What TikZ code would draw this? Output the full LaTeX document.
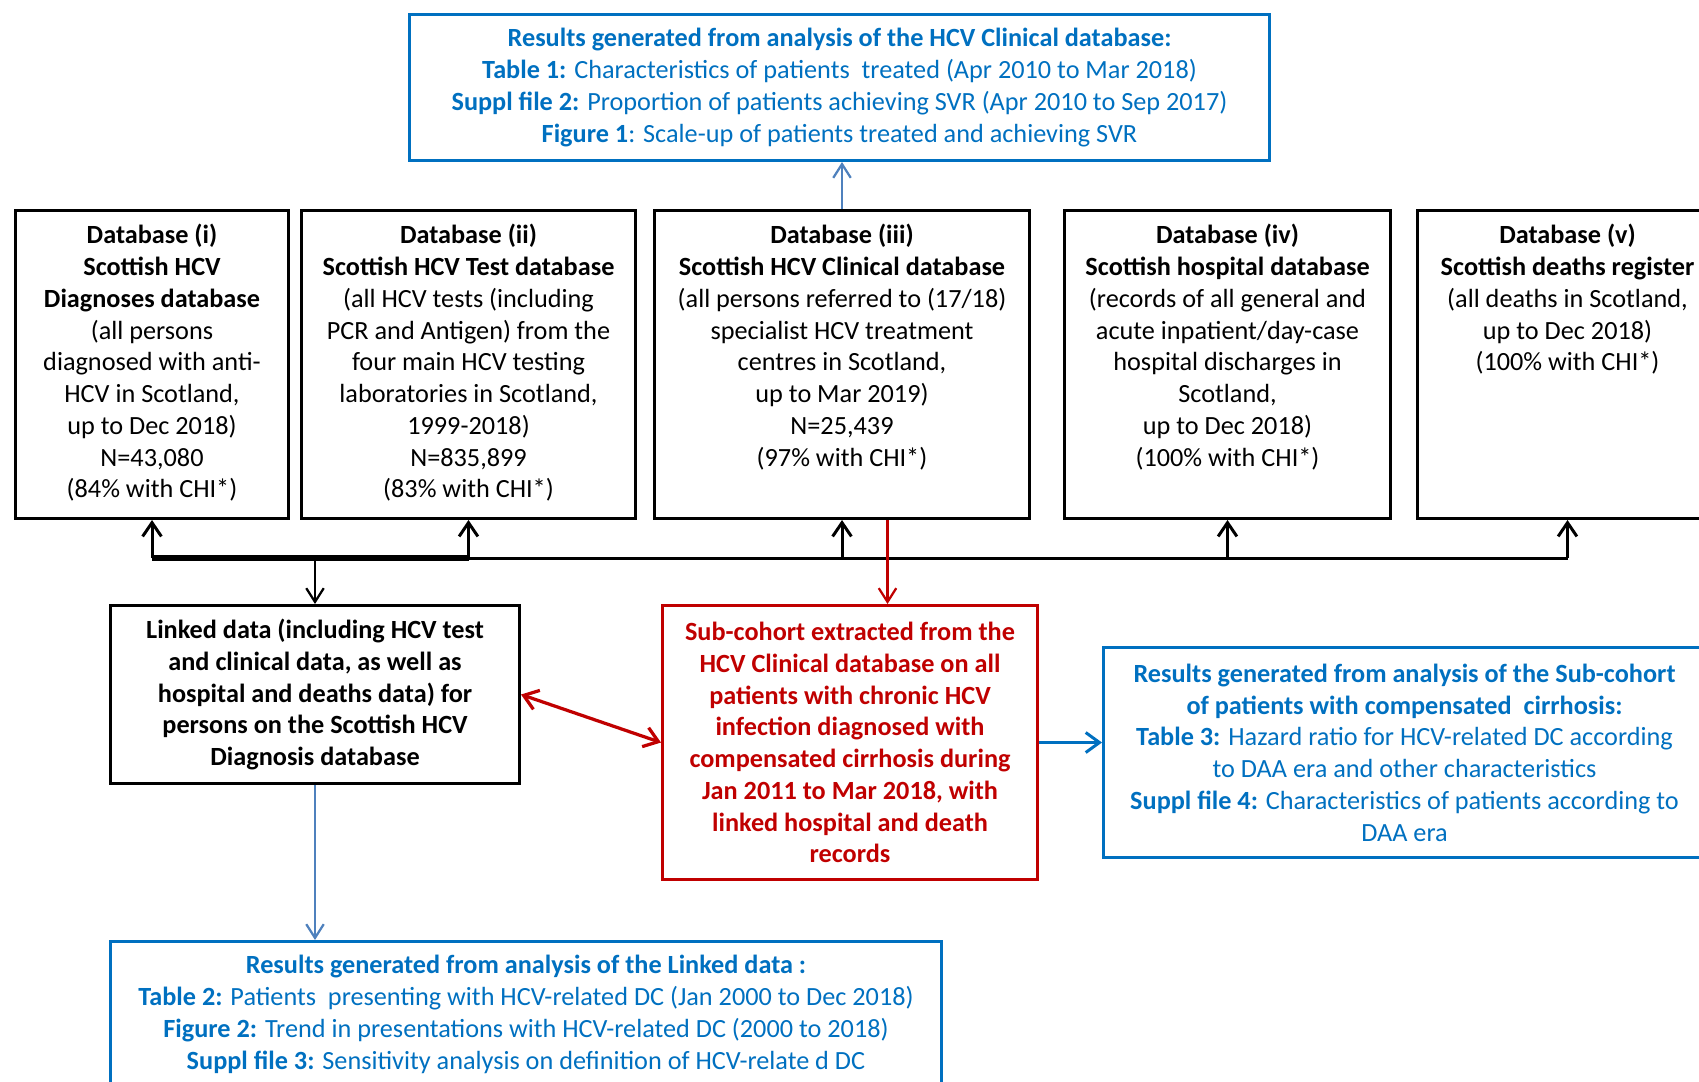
\documentclass[tikz,border=0pt]{standalone}
\usepackage{fontspec}
\setmainfont{Carlito}
\usepackage{tikz}
\usetikzlibrary{arrows.meta, calc}
\definecolor{resblue}{HTML}{0070C0}
\definecolor{linkblue}{HTML}{4F81BD}
\definecolor{subred}{HTML}{C00000}
\newcommand{\boxfont}{\fontsize{10.5pt}{12.7pt}\selectfont}

\begin{document}
\begin{tikzpicture}[x=0.4pt, y=-0.4pt,
    dbbox/.style={draw, line width=1.2pt, anchor=north west, inner xsep=0pt, inner ysep=5.6pt, font=\boxfont},
    resbox/.style={draw=resblue, text=resblue, line width=1.2pt, anchor=north west, align=center, inner sep=0pt, font=\boxfont},
    linkbox/.style={draw, line width=1.2pt, anchor=north west, align=center, inner sep=0pt, font=\boxfont\bfseries},
    subbox/.style={draw=subred, text=subred, line width=1.2pt, anchor=north west, align=center, inner sep=0pt, font=\boxfont\bfseries},
    busline/.style={line width=1.2pt},
    busarrow/.style={line width=1.2pt, -{Straight Barb[length=5.5pt, width=7.5pt]}},
    downarrow/.style={line width=0.9pt, -{Straight Barb[length=5.5pt, width=7pt]}},
    bluearrow/.style={linkblue, line width=0.9pt, -{Straight Barb[length=5.5pt, width=7pt]}},
    redline/.style={subred, line width=0.9pt, -{Straight Barb[length=5.5pt, width=7pt]}},
    redarrow/.style={subred, line width=1.3pt, {Straight Barb[length=5.5pt, width=8pt]}-{Straight Barb[length=5.5pt, width=8pt]}},
    subarrow/.style={resblue, line width=1.2pt, -{Straight Barb[length=5.5pt, width=8pt]}}]

    \useasboundingbox (0,0) rectangle (1699,1081);
    \clip (0,0) rectangle (1699,1081);

    % results of the clinical database
    \node[resbox, minimum width=344pt, minimum height=58.4pt] (res1) at (408,13)
        {\textbf{Results generated from analysis of the HCV Clinical database:}\\
         \textbf{Table 1:} Characteristics of patients~ treated (Apr 2010 to Mar 2018)\\
         \textbf{Suppl file 2:} Proportion of patients achieving SVR (Apr 2010 to Sep 2017)\\
         \textbf{Figure 1}: Scale-up of patients treated and achieving SVR};

    % the five databases
    \node[dbbox] (db1) at (14,209) {\parbox[t][112pt][t]{109.2pt}{\centering
        \textbf{Database (i)}\\ \textbf{Scottish HCV}\\ \textbf{Diagnoses database}\\
        (all persons\\ diagnosed with anti-\\ HCV in Scotland,\\ up to Dec 2018)\\
        N=43,080\\ (84\% with CHI*)}};
    \node[dbbox] (db2) at (300,209) {\parbox[t][112pt][t]{133.6pt}{\centering
        \textbf{Database (ii)}\\ \textbf{Scottish HCV Test database}\\
        (all HCV tests (including\\ PCR and Antigen) from the\\ four main HCV testing\\
        laboratories in Scotland,\\ 1999-2018)\\ N=835,899\\ (83\% with CHI*)}};
    \node[dbbox] (db3) at (653,209) {\parbox[t][112pt][t]{150pt}{\centering
        \textbf{Database (iii)}\\ \textbf{Scottish HCV Clinical database}\\
        (all persons referred to (17/18)\\ specialist HCV treatment\\
        centres in Scotland,\\ up to Mar 2019)\\ N=25,439\\ (97\% with CHI*)}};
    \node[dbbox] (db4) at (1063,209) {\parbox[t][112pt][t]{130.4pt}{\centering
        \textbf{Database (iv)}\\ \textbf{Scottish hospital database}\\
        (records of all general and\\ acute inpatient/day-case\\
        hospital discharges in\\ Scotland,\\ up to Dec 2018)\\ (100\% with CHI*)}};
    \node[dbbox] (db5) at (1416,209) {\parbox[t][112pt][t]{120pt}{\centering
        \textbf{Database (v)}\\ \textbf{Scottish deaths register}\\
        (all deaths in Scotland,\\ up to Dec 2018)\\ (100\% with CHI*)}};

    % linked data and sub-cohort
    \node[linkbox, minimum width=163.6pt, minimum height=71.2pt] (linked) at (109,604)
        {Linked data (including HCV test\\ and clinical data, as well as\\
         hospital and deaths data) for\\ persons on the Scottish HCV\\ Diagnosis database};
    \node[subbox, minimum width=150pt, minimum height=109.6pt] (sub) at (661,604)
        {Sub-cohort extracted from the\\ HCV Clinical database on all\\
         patients with chronic HCV\\ infection diagnosed with\\
         compensated cirrhosis during\\ Jan 2011 to Mar 2018, with\\
         linked hospital and death\\ records};

    % results of the sub-cohort and of the linked data
    \node[resbox, minimum width=240.8pt, minimum height=84pt] (res3) at (1102,646)
        {\textbf{Results generated from analysis of the Sub-cohort}\\
         \textbf{of patients with compensated~ cirrhosis:}\\
         \textbf{Table 3:} Hazard ratio for HCV-related DC according\\
         to DAA era and other characteristics\\
         \textbf{Suppl file 4:} Characteristics of patients according to\\
         DAA era};
    \node[resbox, minimum width=332.4pt, minimum height=58.4pt] (res2) at (109,940)
        {\textbf{Results generated from analysis of the Linked data :}\\
         \textbf{Table 2:} Patients~ presenting with HCV-related DC (Jan 2000 to Dec 2018)\\
         \textbf{Figure 2:} Trend in presentations with HCV-related DC (2000 to 2018)\\
         \textbf{Suppl file 3:} Sensitivity analysis on definition of HCV-relate d DC};

    % linkage bus
    \coordinate (bus) at (0,558);
    \draw[busline] (db1.south |- bus) -- (db5.south |- bus);
    \draw[line width=2.2pt] (db1.south |- bus) -- (db2.south |- bus);
    \foreach \db in {db1,db2,db3,db4,db5}
        \draw[busarrow] (\db.south |- bus) -- (\db.south);
    \draw[downarrow] (linked.north |- bus) -- (linked.north);

    % other connectors
    \draw[bluearrow] (db3.north) -- (db3.north |- res1.south);
    \coordinate (redtop) at ([xshift=18.2pt]db3.south);
    \draw[redline] (redtop) -- (redtop |- sub.north);
    \draw[redarrow] (linked.east) -- (sub.west);
    \draw[subarrow] (sub.east) -- (sub.east -| res3.west);
    \draw[bluearrow] (linked.south) -- (linked.south |- res2.north);
\end{tikzpicture}
\end{document}
